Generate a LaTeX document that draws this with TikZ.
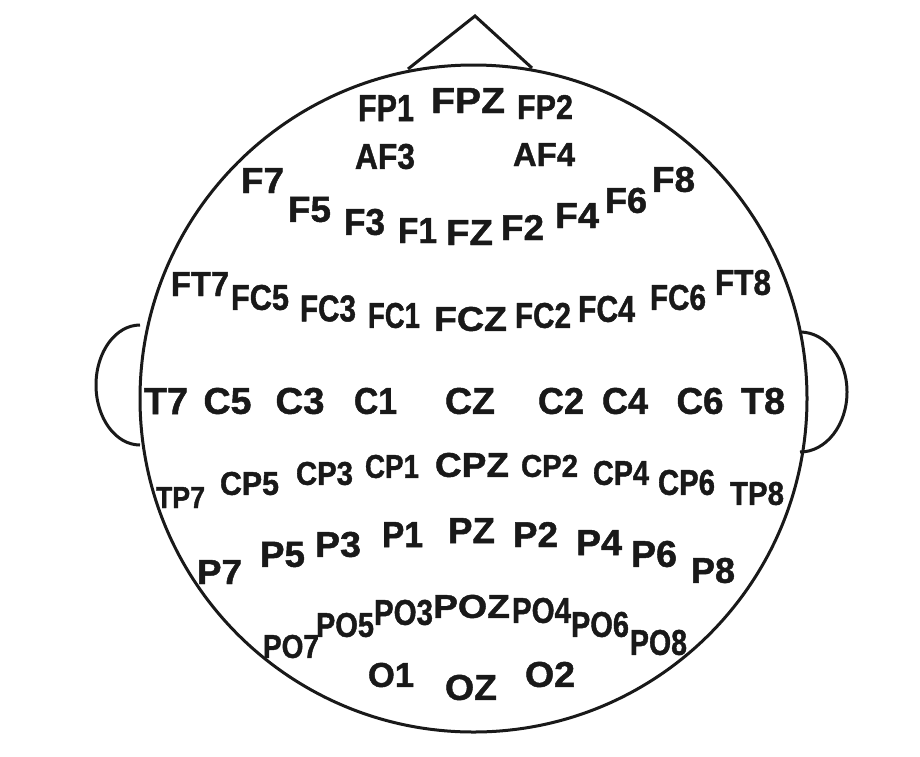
\documentclass[tikz,border=0pt]{standalone}
\usepackage{fontspec}
\setmainfont{Liberation Sans}[BoldFeatures={FakeBold=1.3}]
\usepackage{graphicx}
\begin{document}
\begin{tikzpicture}[x=1pt,y=-1pt,
  headline/.style={line width=3pt, black!90},
  lab/.style={inner sep=0pt, outer sep=0pt, anchor=center, font=\bfseries, text=black!90}]
\useasboundingbox (0,0) rectangle (920,756);
\fill[white] (0,0) rectangle (920,756);
% head
\coordinate (hc) at (473.5,398.5);
\draw[headline] (hc) circle[radius=333.5pt];
% nose
\coordinate (nl) at (408,69);
\coordinate (nt) at (475,16);
\coordinate (nr) at (532,68);
\draw[headline, line join=miter] (nl) -- (nt) -- (nr);
% ears
\coordinate (elt) at (140,325);
\coordinate (ert) at (800,332);
\draw[headline] (elt) arc[start angle=90, end angle=270, x radius=44pt, y radius=60pt];
\draw[headline] (ert) arc[start angle=90, end angle=-90, x radius=47pt, y radius=60pt];
% electrodes: name/x/y/width/height
\foreach \n/\x/\y/\w/\h in {
  FP1/386/108/56/26, FPZ/468/100.5/74/25, FP2/545/107/56/24,
  AF3/385/156.5/60/25, AF4/544/154.5/62/23,
  F7/262.5/180.5/43/25, F5/309.5/209.5/43/25, F3/364.5/222/41/26, F1/417.5/230.5/39/25,
  FZ/469.5/232.5/47/25, F2/522.5/227.5/43/25, F4/577/215.5/44/25, F6/626/200.5/42/25, F8/673.5/179.5/43/25,
  FT7/200/284/58/24, FC5/260/297.5/58/25, FC3/328/308.5/56/26, FC1/394/315.5/52/25,
  FCZ/470.5/319/73/24, FC2/543/315.5/56/25, FC4/606.5/309/57/26, FC6/678/297.5/56/25, FT8/743/282.5/56/25,
  T7/166/401/44/26, C5/227.5/401/48/26, C3/300/401/49/26, C1/375.5/401/43/26,
  CZ/470/401/50/26, C2/561/401/46/26, C4/625/401/46/26, C6/700/401/47/26, T8/763/401/44/26,
  TP7/180.5/497.5/49/21, CP5/249.5/483.5/59/23, CP3/324.5/473.5/57/23, CP1/392/466.5/54/23,
  CPZ/472/465/74/24, CP2/549.5/466/57/22, CP4/621/473/56/24, CP6/686.5/482.5/57/25, TP8/757/493.5/54/23,
  P7/219.5/572/45/24, P5/282.5/554.5/45/25, P3/338/544.5/46/25, P1/402.5/534.5/41/25,
  PZ/471.5/530.5/47/25, P2/535.5/534.5/45/25, P4/599/542.5/46/25, P6/654/554/46/26, P8/713/570.5/44/25,
  PO7/291/646.5/56/23, PO5/345/625/58/24, PO3/403.5/612.5/59/25, POZ/471.5/606.5/77/23,
  PO4/541.5/610.5/59/25, PO6/600/624.5/58/25, PO8/658.5/642.5/57/25,
  O1/391/675/46/24, OZ/471/687.5/52/25, O2/550/674.5/50/25}
{
  \node[lab] (\n) at (\x,\y) {\resizebox{\w pt}{\h pt}{\n}};
}
\end{tikzpicture}
\end{document}
